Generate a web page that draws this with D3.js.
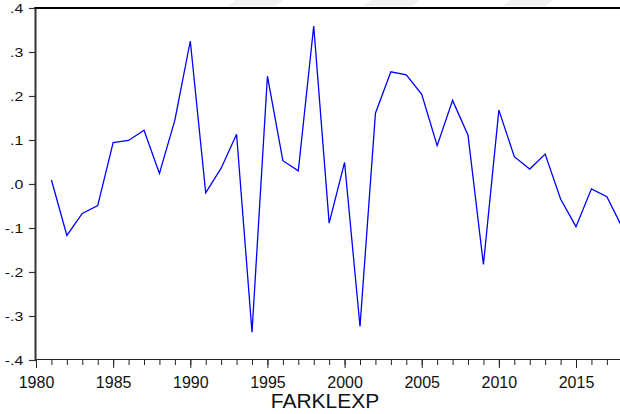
<!DOCTYPE html>
<html>
<head>
<meta charset="utf-8">
<script src="https://cdn.jsdelivr.net/npm/d3@7"></script>
<style>
  html, body { margin: 0; padding: 0; background: #fff; }
  svg { display: block; }
</style>
</head>
<body>
<svg id="chart" width="620" height="414"></svg>
<script>
// ---- data ----
const years = [1981,1982,1983,1984,1985,1986,1987,1988,1989,1990,
               1991,1992,1993,1994,1995,1996,1997,1998,1999,2000,
               2001,2002,2003,2004,2005,2006,2007,2008,2009,2010,
               2011,2012,2013,2014,2015,2016,2017,2018];
const farklexp = [0.009,-0.117,-0.067,-0.049,0.094,0.099,0.122,0.024,0.145,0.325,
                  -0.020,0.036,0.113,-0.337,0.245,0.053,0.030,0.359,-0.089,0.049,
                  -0.324,0.161,0.255,0.248,0.204,0.087,0.190,0.111,-0.183,0.168,
                  0.062,0.034,0.068,-0.034,-0.097,-0.011,-0.029,-0.099];
const yTicks = [0.4,0.3,0.2,0.1,0.0,-0.1,-0.2,-0.3,-0.4];
const yTickLabels = [".4",".3",".2",".1",".0","-.1","-.2","-.3","-.4"];
const xMajorTicks = [1980,1985,1990,1995,2000,2005,2010,2015];
const xMinorTicks = d3.range(1980, 2019);
const seriesName = "FARKLEXP";

// ---- layout ----
const svg = d3.select("#chart");
const mLeft = 36, mTop = 8, mBottom = 360, mRight = 622.3;
const x = d3.scaleLinear().domain([1980, 2018]).range([mLeft, mRight]);
const y = d3.scaleLinear().domain([-0.4, 0.4]).range([mBottom, mTop]);
const font = "Arial, 'Liberation Sans', sans-serif";

// faint gray smudges at the top (artifacts in the reference)
const smudges = [[228,283],[363,420],[503,553]];
svg.append("g").selectAll("path").data(smudges).join("path")
  .attr("d", d => `M${d[0]+8},0 L${d[1]},0 L${d[1]-8},6 L${d[0]},6 Z`)
  .attr("fill", "#f1f1f1");

// x axis minor ticks
const xMinor = svg.append("g").attr("transform", `translate(0,${mBottom})`)
  .call(d3.axisBottom(x).tickValues(xMinorTicks).tickSize(5).tickFormat(""));
xMinor.select(".domain").remove();
xMinor.selectAll(".tick line").attr("stroke", "#222").attr("stroke-width", 1);

// x axis major ticks + labels
const xMajor = svg.append("g").attr("transform", `translate(0,${mBottom})`)
  .call(d3.axisBottom(x).tickValues(xMajorTicks).tickSize(8).tickFormat(d3.format("d")));
xMajor.select(".domain").remove();
xMajor.selectAll(".tick line").attr("stroke", "#222").attr("stroke-width", 1);
xMajor.selectAll(".tick text")
  .attr("y", 27.7).attr("dy", 0)
  .attr("font-family", font).attr("font-size", 16).attr("fill", "#111");

// bottom axis line
svg.append("line").attr("x1", mLeft).attr("x2", 620)
  .attr("y1", mBottom - 0.5).attr("y2", mBottom - 0.5)
  .attr("stroke", "#222").attr("stroke-width", 1.2);

// y axis
const yAx = svg.append("g").attr("transform", `translate(${mLeft},0)`)
  .call(d3.axisLeft(y).tickValues(yTicks).tickSize(7)
        .tickFormat((d, i) => yTickLabels[i]));
yAx.select(".domain").remove();
yAx.selectAll(".tick line").attr("stroke", "#333").attr("stroke-width", 1.2);
yAx.selectAll(".tick text")
  .attr("x", 0).attr("dy", "0.35em")
  .attr("transform", "translate(-12.7,0) scale(1.22,1)")
  .attr("font-family", font).attr("font-size", 13).attr("fill", "#111")
  .attr("text-anchor", "end");

// left axis line and top border
svg.append("line").attr("x1", mLeft - 0.5).attr("x2", mLeft - 0.5)
  .attr("y1", mTop - 1).attr("y2", mBottom)
  .attr("stroke", "#333").attr("stroke-width", 2);
svg.append("line").attr("x1", mLeft - 1.5).attr("x2", 620)
  .attr("y1", mTop).attr("y2", mTop)
  .attr("stroke", "#000").attr("stroke-width", 2);

// series line
const line = d3.line().x((d, i) => x(years[i])).y(d => y(d));
svg.append("path").datum(farklexp)
  .attr("d", line)
  .attr("fill", "none").attr("stroke", "#0000ff")
  .attr("stroke-width", 1.3).attr("stroke-linejoin", "miter");

// x axis title
svg.append("text").attr("x", 325).attr("y", 408)
  .attr("text-anchor", "middle")
  .attr("font-family", font).attr("font-size", 21).attr("fill", "#111")
  .text(seriesName);
</script>
</body>
</html>
